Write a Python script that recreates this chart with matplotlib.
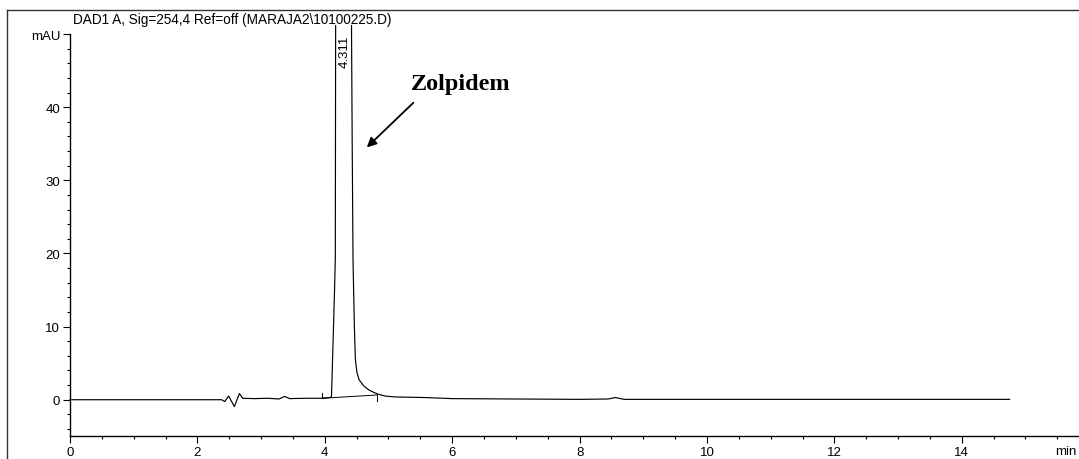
import matplotlib
matplotlib.use("Agg")
import matplotlib.pyplot as plt
from matplotlib.ticker import MultipleLocator
from matplotlib.patches import Rectangle
from matplotlib.lines import Line2D

tempo = [0.0, 1.0, 2.0, 2.38, 2.43, 2.49, 2.58, 2.66, 2.71, 2.9, 3.1, 3.28, 3.37,
         3.45, 3.7, 3.96, 4.08, 4.105, 4.12, 4.15, 4.165, 4.17, 4.175, 4.30,
         4.415, 4.42, 4.43, 4.443, 4.453, 4.464, 4.48, 4.505, 4.54, 4.61, 4.69,
         4.77, 4.84, 4.95, 5.1, 5.57, 6.0, 7.0, 8.0, 8.45, 8.56, 8.7, 9.5, 10.5,
         11.5, 12.5, 13.5, 14.75]
segnale = [0.0, 0.0, 0.0, 0.0, -0.25, 0.5, -0.93, 0.85, 0.2, 0.15, 0.2, 0.1, 0.45,
           0.15, 0.2, 0.2, 0.3, 0.4, 5.0, 14.0, 19.3, 50.0, 80.0, 300.0,
           80.0, 50.0, 35.0, 19.2, 14.7, 10.1, 5.5, 3.7, 2.7, 1.9, 1.35,
           1.0, 0.75, 0.5, 0.38, 0.3, 0.15, 0.1, 0.05, 0.1, 0.3, 0.05, 0.05, 0.05,
           0.05, 0.05, 0.05, 0.05]

# linea di base dell'integrazione del picco
base_t = [3.96, 4.82]
base_y = [0.2, 0.65]

picco_rt = 4.311
titolo = "DAD1 A, Sig=254,4 Ref=off (MARAJA2\\10100225.D)"
x_ticks = [0, 2, 4, 6, 8, 10, 12, 14]
y_ticks = [0, 10, 20, 30, 40, 50]
y_labels = ["0", "10", "20", "30", "40", "mAU"]

W, H = 1079, 460
fig = plt.figure(figsize=(W / 100, H / 100), dpi=100)
plt.rcParams['font.family'] = ['Liberation Sans', 'DejaVu Sans']

ax = fig.add_axes([70 / W, 1 - 437.3 / H, 16.5 * 63.7 / W, (437.3 - 35) / H])
ax.set_xlim(0, 16.5)
ax.set_ylim(-5, 50)

linea, = ax.plot(tempo, segnale, color='black', lw=0.85)
# il picco esce un po' sopra l'asse
linea.set_clip_path(Rectangle((-1, -5), 20, 56.2, transform=ax.transData))

ax.plot(base_t, base_y, color='black', lw=0.7)
ax.plot([base_t[0], base_t[0]], [base_y[0], base_y[0] + 0.7], color='black', lw=0.7)
ax.plot([base_t[1], base_t[1]], [base_y[1], base_y[1] - 0.8], color='black', lw=0.7)

ax.text(picco_rt, 49.9, "4.311", rotation=90, ha='center', va='top', fontsize=9.5)

ax.annotate("Zolpidem", xy=(4.66, 34.5), xytext=(6.13, 43.2),
            ha='center', va='center', fontsize=17.5, fontweight='bold',
            family=['Liberation Serif', 'DejaVu Serif'])
ax.annotate("", xy=(4.66, 34.5), xytext=(5.39, 40.6),
            arrowprops=dict(arrowstyle='-|>', color='black', lw=1.3,
                            mutation_scale=14, shrinkA=0, shrinkB=0))

# assi stile ChemStation
for s in ['top', 'right']:
    ax.spines[s].set_visible(False)
ax.spines['left'].set_linewidth(1)
ax.spines['bottom'].set_linewidth(1)
ax.set_xticks(x_ticks)
ax.set_xticklabels([str(v) for v in x_ticks])
ax.set_yticks(y_ticks)
ax.set_yticklabels(y_labels)
ax.xaxis.set_minor_locator(MultipleLocator(0.5))
ax.yaxis.set_minor_locator(MultipleLocator(2))
ax.tick_params(axis='both', which='major', direction='out', length=5, width=0.8,
               labelsize=9.5, pad=2)
ax.tick_params(axis='both', which='minor', direction='out', length=2.5, width=0.8)

# etichetta "min" dentro la figura
fig.text(1 - 2 / W, 1 - 446 / H, "min", ha='right', va='top', fontsize=9.5)

fig.text(73 / W, 1 - 20 / H, titolo, ha='left', va='center', fontsize=9.8)

# cornice esterna
fig.add_artist(Line2D([7 / W, 1], [1 - 11 / H, 1 - 11 / H], color='#333333', lw=1))
fig.add_artist(Line2D([7 / W, 7 / W], [0, 1 - 11 / H], color='#333333', lw=1))

fig.savefig("out.png", dpi=100)
